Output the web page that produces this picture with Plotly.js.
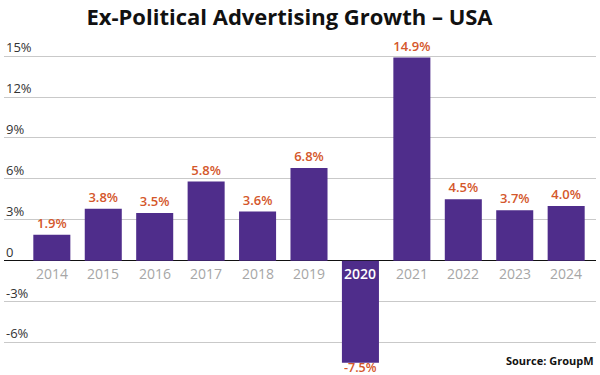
<!DOCTYPE html>
<html><head><meta charset="utf-8">
<script src="https://cdn.plot.ly/plotly-3.0.1.min.js"></script>
<style>html,body{margin:0;padding:0;background:#fff}#chart{width:600px;height:375px}</style>
</head><body><div id="chart"></div>
<script>
const years = ['2014','2015','2016','2017','2018','2019','2020','2021','2022','2023','2024'];
const growth = [1.9, 3.8, 3.5, 5.8, 3.6, 6.8, -7.5, 14.9, 4.5, 3.7, 4.0];
const valueLabels = ['1.9%','3.8%','3.5%','5.8%','3.6%','6.8%','-7.5%','14.9%','4.5%','3.7%','4.0%'];
const yTickVals = [-6, -3, 0, 3, 6, 9, 12, 15];
const yTickText = ['-6%', '-3%', '0', '3%', '6%', '9%', '12%', '15%'];
const highlightYear = '2020';

const barColor = '#4f2d8b';
const labelColor = '#d4572b';
const font = 'Open Sans, Noto Sans, sans-serif';

const annotations = [];
yTickVals.forEach((v, i) => {
  annotations.push({xref:'paper', yref:'y', x:0, y:v, xanchor:'left', yanchor:'bottom',
    text:yTickText[i], showarrow:false, font:{family:font, size:13, color:'#333'}, yshift:-2});
});
years.forEach((yr, i) => {
  const hi = yr === highlightYear;
  annotations.push({xref:'x', yref:'y', x:i, y:0, xanchor:'center', yanchor:'top',
    text: yr, showarrow:false, yshift:-1,
    font:{family:font, size:14, color: hi ? '#ffffff' : '#a6a6a6', weight: hi ? 600 : 400}});
});
growth.forEach((v, i) => {
  if (v < 0) {
    annotations.push({xref:'x', yref:'y', x:i, y:v, xanchor:'center', yanchor:'top',
      text:valueLabels[i], showarrow:false, height:9, borderpad:0, yshift:1,
      font:{family:font, size:12.5, color:labelColor, weight:600}});
  }
});
annotations.push({xref:'paper', yref:'paper', x:1, y:0, xanchor:'right', yanchor:'bottom',
  text:'<b>Source: GroupM</b>', showarrow:false, yshift:-1, font:{family:font, size:11, color:'#111'}});

const data = [{
  type:'bar', x: years.map((y, i) => i), y: growth,
  text: valueLabels.map((t, i) => growth[i] < 0 ? '' : t),
  textposition: growth.map(v => v < 0 ? 'none' : 'outside'),
  textfont:{family:font, size:13, color:labelColor, weight:600},
  marker:{color: barColor}, cliponaxis:false, hoverinfo:'none'
}];

const layout = {
  width:600, height:375,
  margin:{l:4, r:4, t:45, b:6},
  paper_bgcolor:'#fff', plot_bgcolor:'#fff',
  bargap:0.28,
  showlegend:false,
  title:{text:'<b>Ex-Political Advertising Growth – USA</b>', xref:'container', x:0.4825, xanchor:'center',
    yref:'container', y:1 - 10/375, yanchor:'top',
    font:{family:font, size:22, color:'#111'}},
  xaxis:{type:'linear', range:[-0.93, 10.58], showticklabels:false, showgrid:false, zeroline:false, showline:false, ticks:''},
  yaxis:{range:[-7.95, 15.82], tickvals:yTickVals, showticklabels:false, showgrid:true, gridcolor:'#c9c9c9', gridwidth:1,
    zeroline:true, zerolinecolor:'#111', zerolinewidth:1.5, showline:false, ticks:''},
  annotations: annotations
};
Plotly.newPlot('chart', data, layout, {displayModeBar:false, staticPlot:true});
</script></body></html>
